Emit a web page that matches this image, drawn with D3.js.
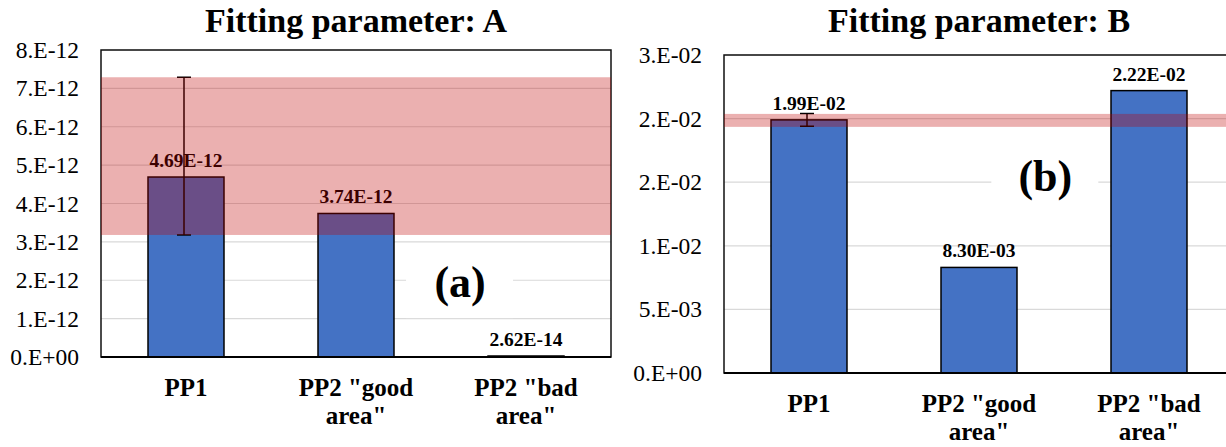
<!DOCTYPE html>
<html>
<head>
<meta charset="utf-8">
<script src="https://cdn.jsdelivr.net/npm/d3@7"></script>
<style>
  body { margin: 0; background: #fff; }
  svg text { font-family: 'Liberation Serif', 'Times New Roman', Times, serif; }
</style>
</head>
<body>
<div id="container"></div>
<script>
/* DATA */
const categories = ['PP1', 'PP2 "good area"', 'PP2 "bad area"'];

const valuesA = [4.69e-12, 3.74e-12, 2.62e-14];
const valuesB = [1.99e-2, 8.30e-3, 2.22e-2];

// error bar on PP1 only
const errorA = [{ cat: 'PP1', lo: 3.18e-12, hi: 7.29e-12 }];
const errorB = [{ cat: 'PP1', lo: 1.94e-2, hi: 2.04e-2 }];

// shaded range (red band)
const bandA = [3.18e-12, 7.29e-12];
const bandB = [1.935e-2, 2.037e-2];

const ticksA = [0, 1e-12, 2e-12, 3e-12, 4e-12, 5e-12, 6e-12, 7e-12, 8e-12];
const tickLabelsA = ["0.E+00", "1.E-12", "2.E-12", "3.E-12", "4.E-12", "5.E-12", "6.E-12", "7.E-12", "8.E-12"];
const ticksB = [0, 0.005, 0.01, 0.015, 0.02, 0.025];
const tickLabelsB = ["0.E+00", "5.E-03", "1.E-02", "2.E-02", "2.E-02", "3.E-02"];

/* LAYOUT */
const width = 1226, height = 447;
const FONT = "'Liberation Serif', 'Times New Roman', Times, serif";

const panels = [
  { title: "Fitting parameter: A", values: valuesA, errors: errorA, band: bandA,
    ticks: ticksA, tickLabels: tickLabelsA, note: "(a)", noteX: 0.704, noteY: 1.9e-12,
    box: { left: 101, right: 611, top: 50, bottom: 357 } },
  { title: "Fitting parameter: B", values: valuesB, errors: errorB, band: bandB,
    ticks: ticksB, tickLabels: tickLabelsB, note: "(b)", noteX: 0.63, noteY: 1.535e-2,
    box: { left: 724, right: 1234, top: 55, bottom: 373 } }
];

const svg = d3.select("#container").append("svg")
  .attr("width", width)
  .attr("height", height)
  .attr("font-family", FONT);

svg.append("rect").attr("width", width).attr("height", height).attr("fill", "#fff");

// 4.69e-12 -> "4.69E-12"
function sci(v) {
  const e = Math.floor(Math.log10(v));
  const m = v / Math.pow(10, e);
  return m.toFixed(2) + "E" + (e < 0 ? "-" : "+") + String(Math.abs(e)).padStart(2, "0");
}

panels.forEach(drawPanel);

function drawPanel(p) {
  const b = p.box;
  const g = svg.append("g");

  const xScale = d3.scaleBand()
    .domain(categories)
    .range([b.left, b.right])
    .paddingInner(0.553)
    .paddingOuter(0.2765);

  const yScale = d3.scaleLinear()
    .domain([0, p.ticks[p.ticks.length - 1]])
    .range([b.bottom, b.top]);

  // title
  g.append("text")
    .attr("x", (b.left + b.right) / 2)
    .attr("y", 32)
    .attr("text-anchor", "middle")
    .attr("font-family", FONT)
    .attr("font-size", 34)
    .attr("font-weight", "bold")
    .text(p.title);

  // gridlines
  g.selectAll(".grid")
    .data(p.ticks.slice(1))
    .join("line")
    .attr("class", "grid")
    .attr("x1", b.left).attr("x2", b.right)
    .attr("y1", d => yScale(d)).attr("y2", d => yScale(d))
    .attr("stroke", "#d9d9d9")
    .attr("stroke-width", 1.2);

  // panel letter with white background
  const nx = b.left + p.noteX * (b.right - b.left);
  const ny = yScale(p.noteY);
  g.append("rect")
    .attr("x", nx - 54).attr("y", ny - 36)
    .attr("width", 107).attr("height", 70)
    .attr("fill", "#fff");
  g.append("text")
    .attr("x", nx).attr("y", ny + 13)
    .attr("text-anchor", "middle")
    .attr("font-family", FONT)
    .attr("font-size", 44)
    .attr("font-weight", "bold")
    .text(p.note);

  // frame
  g.append("rect")
    .attr("x", b.left).attr("y", b.top)
    .attr("width", b.right - b.left).attr("height", b.bottom - b.top)
    .attr("fill", "none")
    .attr("stroke", "#111")
    .attr("stroke-width", 1.5);

  // bars
  g.selectAll(".bar")
    .data(categories.map((c, i) => ({ cat: c, value: p.values[i] })))
    .join("rect")
    .attr("class", "bar")
    .attr("x", d => xScale(d.cat))
    .attr("y", d => yScale(d.value))
    .attr("width", xScale.bandwidth())
    .attr("height", d => yScale(0) - yScale(d.value))
    .attr("fill", "#4472C4")
    .attr("stroke", "#000")
    .attr("stroke-width", 1.5);

  // x axis line
  g.append("line")
    .attr("x1", b.left).attr("x2", b.right)
    .attr("y1", yScale(0)).attr("y2", yScale(0))
    .attr("stroke", "#000")
    .attr("stroke-width", 2);

  // y axis labels
  const yAxis = d3.axisLeft(yScale)
    .tickValues(p.ticks)
    .tickFormat((d, i) => p.tickLabels[i])
    .tickSize(0)
    .tickPadding(22);

  g.append("g")
    .attr("transform", `translate(${b.left},0)`)
    .call(yAxis)
    .attr("font-family", FONT)
    .attr("font-size", 23.5)
    .call(a => a.select(".domain").remove())
    .selectAll("text")
    .attr("fill", "#000");

  // x labels (two lines)
  const xl = g.selectAll(".xlab")
    .data(categories)
    .join("text")
    .attr("class", "xlab")
    .attr("text-anchor", "middle")
    .attr("font-family", FONT)
    .attr("font-size", 25)
    .attr("font-weight", "bold")
    .attr("y", yScale(0) + 39);
  xl.selectAll("tspan")
    .data(d => d.split(/ (?=area)/).map(t => ({ t, x: xScale(d) + xScale.bandwidth() / 2 })))
    .join("tspan")
    .attr("x", d => d.x)
    .attr("dy", (d, i) => i === 0 ? 0 : 28)
    .text(d => d.t);

  // error bars
  const eb = g.selectAll(".err")
    .data(p.errors)
    .join("g")
    .attr("class", "err")
    .attr("stroke", "#000")
    .attr("stroke-width", 1.5);
  eb.append("line")
    .attr("x1", d => xScale(d.cat) + xScale.bandwidth() / 2 - 2)
    .attr("x2", d => xScale(d.cat) + xScale.bandwidth() / 2 - 2)
    .attr("y1", d => yScale(d.lo)).attr("y2", d => yScale(d.hi));
  ["lo", "hi"].forEach(k => {
    eb.append("line")
      .attr("x1", d => xScale(d.cat) + xScale.bandwidth() / 2 - 9)
      .attr("x2", d => xScale(d.cat) + xScale.bandwidth() / 2 + 5)
      .attr("y1", d => yScale(d[k])).attr("y2", d => yScale(d[k]));
  });

  // data labels
  g.selectAll(".vlab")
    .data(categories.map((c, i) => ({ cat: c, value: p.values[i] })))
    .join("text")
    .attr("class", "vlab")
    .attr("x", d => xScale(d.cat) + xScale.bandwidth() / 2)
    .attr("y", d => yScale(d.value) - 10)
    .attr("text-anchor", "middle")
    .attr("font-family", FONT)
    .attr("font-size", 19.5)
    .attr("font-weight", "bold")
    .text(d => sci(d.value));

  // translucent red range on top
  g.append("rect")
    .attr("x", b.left)
    .attr("y", yScale(p.band[1]))
    .attr("width", b.right - b.left)
    .attr("height", yScale(p.band[0]) - yScale(p.band[1]))
    .attr("fill", "rgb(192,0,0)")
    .attr("opacity", 0.31);
}
</script>
</body>
</html>
